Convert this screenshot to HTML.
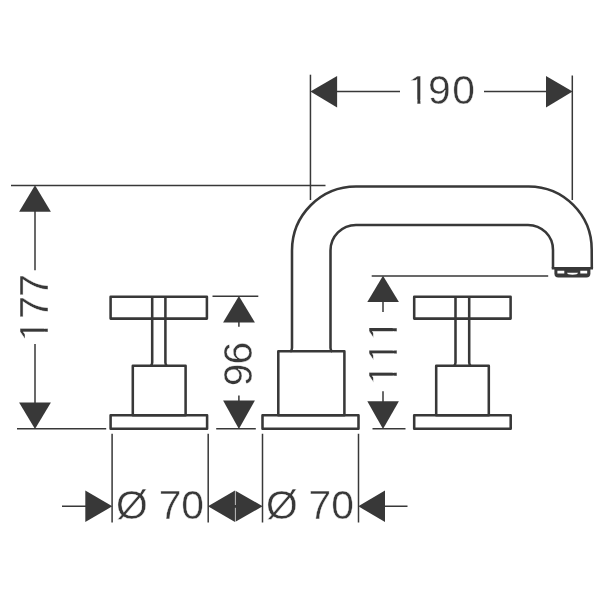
<!DOCTYPE html>
<html lang="en">
<head>
<meta charset="utf-8">
<title>Dimensional drawing</title>
<style>
html,body{margin:0;padding:0;background:#fff;}
body{width:600px;height:600px;overflow:hidden;}
svg{display:block;will-change:transform;filter:grayscale(1);}
.o{fill:none;stroke:#383838;stroke-width:2.55;stroke-linejoin:round;stroke-linecap:butt;}
.t{fill:none;stroke:#383838;stroke-width:1.5;}
.a{fill:#383838;stroke:none;}
text{font-family:"Liberation Sans",sans-serif;font-size:40px;fill:#383838;stroke:#fff;stroke-width:0.4px;}
</style>
</head>
<body>
<svg width="600" height="600" viewBox="0 0 600 600">
<rect width="600" height="600" fill="#fff"/>

<!-- spout -->
<g class="o">
<path d="M290.3 351.6 Q292 350.6 292 348 V250.5 A64 64 0 0 1 356 186.5 H528.7 A63 63 0 0 1 591.7 249.5 L591.8 268.3"/>
<path d="M332.2 351.6 Q330.5 350.6 330.5 348 V250.4 A25.5 25.5 0 0 1 356 224.9 H528 A25 25 0 0 1 553 249.9 V268.3"/>
<path d="M551.75 268.3 H593.05"/>
</g>
<path class="a" d="M554.4 268.3 H590.4 V273.4 Q590.4 277.4 586.4 277.4 H558.4 Q554.4 277.4 554.4 273.4 Z"/>
<path fill="#fff" d="M557.4 270.7 H564.3 V273.4 H557.4 Z M580.3 270.7 H587.2 V273.4 H580.3 Z M567 272.8 H578 Q578 274.7 572.5 274.7 Q567 274.7 567 272.8 Z"/>

<!-- centre body -->
<g class="o">
<rect x="278.3" y="351.3" width="66.1" height="63.9"/>
<rect x="262.5" y="415.2" width="96" height="13.6"/>
</g>

<!-- left handle -->
<g class="o">
<rect x="110.6" y="296.7" width="96.3" height="21.9"/>
<path d="M150.6 366 Q152.2 365 152.2 362.5 V296.7 M167 366 Q165.4 365 165.4 362.5 V296.7"/>
<rect x="132.8" y="365.8" width="52.8" height="49.4"/>
<rect x="110.6" y="415.2" width="96.5" height="13.6"/>
</g>

<!-- right handle -->
<g class="o">
<rect x="414.2" y="296.7" width="96.4" height="21.9"/>
<path d="M453.9 366 Q455.5 365 455.5 362.5 V296.7 M470.8 366 Q469.2 365 469.2 362.5 V296.7"/>
<rect x="436.2" y="365.8" width="52.6" height="49.4"/>
<rect x="414.2" y="415.2" width="96.5" height="13.6"/>
</g>

<!-- thin lines -->
<g class="t">
<path d="M310.45 74.7 V200"/>
<path d="M572.3 75.5 V200"/>
<path d="M337 91.6 H400 M484 91.6 H546"/>
<path d="M11 185.4 H325.5"/>
<path d="M17 428.8 H106.2"/>
<path d="M35 211 V270.3 M35 344 V403"/>
<path d="M212.5 296.2 H258.3 M216.2 428.8 H255.8"/>
<path d="M238.9 322 V326.7 M238.9 395.5 V401"/>
<path d="M371.7 275.9 H548.2 M372.5 428.8 H405.5"/>
<path d="M383 301 V312 M383 391.3 V402"/>
<path d="M112.1 433.8 V522.4 M208.2 433.8 V522.4 M262.5 433.8 V522.4 M358.5 433.8 V522.4"/>
<path d="M62 506.3 H86 M385 506.3 H407.5"/>
</g>

<!-- arrows -->
<g class="a">
<path d="M310.4 91.6 L337.1 75.9 V107.4 Z"/>
<path d="M572.6 91.6 L546 75.9 V107.4 Z"/>
<path d="M35 185.2 L19.1 211.8 H50.9 Z"/>
<path d="M35 429 L19.1 402.4 H50.9 Z"/>
<path d="M238.9 296 L223.1 322.5 H254.9 Z"/>
<path d="M238.9 429 L223.1 400.5 H254.9 Z"/>
<path d="M383 275.7 L367.3 302 H398.9 Z"/>
<path d="M383 429 L367.3 401.2 H398.9 Z"/>
<path d="M112.3 506.3 L85.3 490.5 V522 Z"/>
<path d="M208 506.3 L235 490.4 V522 Z"/>
<path d="M262.7 506.3 L235 490.4 V522 Z"/>
<path d="M358.3 506.3 L385 490.5 V522 Z"/>
</g>
<path d="M235.4 490 V505 M235.4 507.8 V522.4" fill="none" stroke="#fff" stroke-opacity="0.85" stroke-width="0.8"/>

<!-- labels -->
<g transform="translate(0 103.60) scale(1.020 1)"><clipPath id="c190"><rect x="408.52" y="-40.00" width="4.33" height="36.01"/><rect x="409.22" y="-4.49" width="2.93" height="5.49"/><rect x="398.86" y="-40.00" width="10.06" height="16.60"/><rect x="420.07" y="-40.00" width="21.60" height="44.00"/><rect x="443.88" y="-40.00" width="21.60" height="44.00"/></clipPath><g clip-path="url(#c190)"><text x="398.86 419.67 443.48" y="0">190</text></g></g>
<g transform="translate(48.20 0) rotate(-90) scale(1.020 1)"><clipPath id="c177"><rect x="-325.89" y="-40.00" width="4.33" height="36.01"/><rect x="-325.19" y="-4.49" width="2.93" height="5.49"/><rect x="-335.55" y="-40.00" width="10.06" height="16.60"/><rect x="-312.02" y="-40.00" width="21.60" height="44.00"/><rect x="-290.45" y="-40.00" width="21.60" height="44.00"/></clipPath><g clip-path="url(#c177)"><text x="-335.55 -312.42 -290.85" y="0">177</text></g></g>
<g transform="translate(251.60 0) rotate(-90) scale(1.020 1)"><g><text x="-378.76 -357.34" y="0">96</text></g></g>
<g transform="translate(396.60 0) rotate(-90) scale(1.020 1)"><clipPath id="c111"><rect x="-369.03" y="-40.00" width="4.33" height="36.01"/><rect x="-368.33" y="-4.49" width="2.93" height="5.49"/><rect x="-378.69" y="-40.00" width="10.06" height="16.60"/><rect x="-347.27" y="-40.00" width="4.33" height="36.01"/><rect x="-346.57" y="-4.49" width="2.93" height="5.49"/><rect x="-356.93" y="-40.00" width="10.06" height="16.60"/><rect x="-325.40" y="-40.00" width="4.33" height="36.01"/><rect x="-324.70" y="-4.49" width="2.93" height="5.49"/><rect x="-335.06" y="-40.00" width="10.06" height="16.60"/></clipPath><g clip-path="url(#c111)"><text x="-378.69 -356.93 -335.06" y="0">111</text></g></g>
<g transform="translate(0 518.60) scale(1.020 1)"><g><text x="113.74 144.85 155.52 177.70" y="0">Ø 70</text></g></g>
<g transform="translate(0 518.60) scale(1.020 1)"><g><text x="260.80 291.91 302.58 324.76" y="0">Ø 70</text></g></g>
</svg>
</body>
</html>
